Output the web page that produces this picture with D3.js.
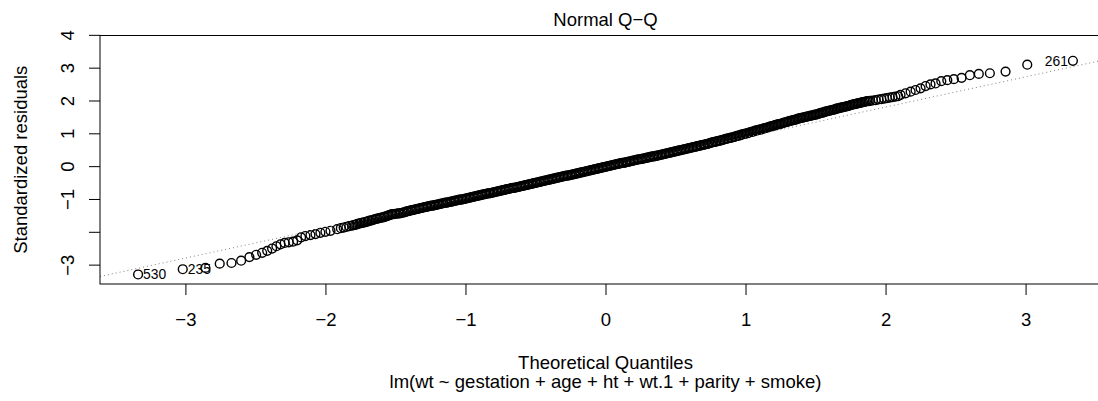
<!DOCTYPE html>
<html>
<head>
<meta charset="utf-8">
<script src="https://cdn.jsdelivr.net/npm/d3@7"></script>
<style>
  body { margin: 0; background: #fff; }
  svg text { font-family: "Liberation Sans", Arial, Helvetica, sans-serif; fill: #000; }
</style>
</head>
<body>
<svg id="canvas_qq" width="1098" height="401"></svg>
<script>
'use strict';

/* lower tail: the points that can still be told apart (theoretical quantile / standardized residual) */
const lowTailX = [-3.338, -3.019, -2.857, -2.755, -2.671, -2.602, -2.543, -2.495, -2.452, -2.416,
  -2.381, -2.350, -2.321, -2.291, -2.262, -2.231, -2.202, -2.174, -2.143, -2.107,
  -2.071, -2.036, -2.000, -1.964, -1.916, -1.890, -1.870, -1.850, -1.830, -1.810];
const lowTailY = [-3.30, -3.14, -3.10, -2.97, -2.95, -2.88, -2.77, -2.70, -2.64, -2.58,
  -2.51, -2.44, -2.38, -2.34, -2.32, -2.30, -2.26, -2.17, -2.13, -2.10,
  -2.07, -2.03, -2.00, -1.97, -1.92, -1.89, -1.87, -1.85, -1.83, -1.81];

/* dense middle band: residual read every 0.01 along the theoretical quantiles */
const midStart = -1.80;
const midStep = 0.01;
const midY = [
  -1.80, -1.79, -1.78, -1.76, -1.75, -1.74, -1.73, -1.72, -1.71, -1.70,
  -1.69, -1.67, -1.66, -1.65, -1.64, -1.62, -1.61, -1.60, -1.59, -1.58,
  -1.57, -1.56, -1.55, -1.53, -1.52, -1.50, -1.49, -1.47, -1.46, -1.46,
  -1.45, -1.45, -1.44, -1.44, -1.43, -1.42, -1.41, -1.40, -1.38, -1.37,
  -1.36, -1.35, -1.34, -1.33, -1.32, -1.31, -1.30, -1.29, -1.28, -1.27,
  -1.26, -1.25, -1.24, -1.23, -1.22, -1.21, -1.20, -1.20, -1.19, -1.18,
  -1.17, -1.16, -1.15, -1.14, -1.13, -1.12, -1.11, -1.11, -1.10, -1.09,
  -1.08, -1.07, -1.06, -1.05, -1.04, -1.03, -1.02, -1.02, -1.01, -1.00,
  -0.99, -0.98, -0.97, -0.96, -0.95, -0.94, -0.93, -0.92, -0.91, -0.90,
  -0.89, -0.88, -0.87, -0.86, -0.85, -0.84, -0.83, -0.83, -0.82, -0.81,
  -0.80, -0.79, -0.78, -0.77, -0.76, -0.75, -0.74, -0.73, -0.72, -0.71,
  -0.70, -0.69, -0.68, -0.67, -0.66, -0.66, -0.65, -0.64, -0.63, -0.62,
  -0.61, -0.60, -0.59, -0.58, -0.57, -0.56, -0.55, -0.54, -0.53, -0.52,
  -0.51, -0.50, -0.49, -0.48, -0.47, -0.46, -0.45, -0.44, -0.43, -0.42,
  -0.41, -0.40, -0.39, -0.38, -0.37, -0.36, -0.35, -0.34, -0.33, -0.32,
  -0.31, -0.30, -0.29, -0.29, -0.28, -0.27, -0.26, -0.25, -0.24, -0.23,
  -0.22, -0.21, -0.20, -0.19, -0.18, -0.17, -0.16, -0.15, -0.14, -0.13,
  -0.12, -0.11, -0.10, -0.09, -0.08, -0.07, -0.06, -0.05, -0.04, -0.03,
  -0.02, -0.01, 0.00, 0.01, 0.02, 0.03, 0.04, 0.05, 0.06, 0.07,
  0.08, 0.09, 0.10, 0.10, 0.11, 0.12, 0.13, 0.14, 0.15, 0.16,
  0.17, 0.18, 0.19, 0.20, 0.21, 0.21, 0.22, 0.23, 0.24, 0.25,
  0.26, 0.27, 0.28, 0.29, 0.30, 0.30, 0.31, 0.32, 0.33, 0.34,
  0.35, 0.36, 0.37, 0.38, 0.39, 0.40, 0.41, 0.42, 0.43, 0.44,
  0.45, 0.46, 0.47, 0.48, 0.49, 0.50, 0.51, 0.52, 0.53, 0.54,
  0.55, 0.56, 0.57, 0.58, 0.59, 0.60, 0.61, 0.62, 0.63, 0.64,
  0.65, 0.66, 0.67, 0.68, 0.69, 0.71, 0.72, 0.73, 0.74, 0.75,
  0.76, 0.77, 0.78, 0.79, 0.80, 0.82, 0.83, 0.84, 0.85, 0.86,
  0.87, 0.88, 0.89, 0.91, 0.92, 0.93, 0.94, 0.96, 0.97, 0.98,
  0.99, 1.00, 1.01, 1.03, 1.04, 1.05, 1.06, 1.08, 1.09, 1.10,
  1.11, 1.12, 1.13, 1.15, 1.16, 1.17, 1.18, 1.20, 1.21, 1.22,
  1.23, 1.25, 1.26, 1.27, 1.28, 1.29, 1.30, 1.32, 1.33, 1.34,
  1.35, 1.37, 1.38, 1.39, 1.40, 1.41, 1.42, 1.44, 1.45, 1.46,
  1.47, 1.48, 1.49, 1.50, 1.51, 1.52, 1.53, 1.54, 1.55, 1.56,
  1.57, 1.58, 1.59, 1.61, 1.62, 1.63, 1.64, 1.66, 1.67, 1.68,
  1.69, 1.70, 1.71, 1.72, 1.73, 1.75, 1.76, 1.77, 1.78, 1.79,
  1.80, 1.81, 1.82, 1.83, 1.84, 1.86, 1.87, 1.88, 1.89, 1.90,
  1.91, 1.92, 1.93, 1.94, 1.95, 1.96, 1.97, 1.98, 1.98, 1.99
];

/* upper tail */
const highTailX = [1.910, 1.930, 1.950, 1.970, 1.990, 2.010, 2.030, 2.050, 2.070, 2.090,
  2.107, 2.143, 2.179, 2.214, 2.250, 2.286, 2.321, 2.357, 2.398, 2.441,
  2.488, 2.543, 2.602, 2.666, 2.745, 2.857, 3.012, 3.338];
const highTailY = [2.00, 2.01, 2.03, 2.04, 2.06, 2.07, 2.09, 2.10, 2.12, 2.13,
  2.17, 2.22, 2.27, 2.32, 2.37, 2.44, 2.49, 2.52, 2.59, 2.62,
  2.65, 2.69, 2.77, 2.81, 2.83, 2.88, 3.09, 3.21];

/* the three labelled observations */
const idLabels = ['530', '235', '261'];
const idX = [-3.338, -3.019, 3.338];
const idY = [-3.30, -3.14, 3.21];

/* axes */
const xTicks = [-3, -2, -1, 0, 1, 2, 3];
const yTicks = [-3, -2, -1, 0, 1, 2, 3, 4];
const yTickLabels = ['\u22123', '', '\u22121', '0', '1', '2', '3', '4'];

/* dotted reference line through the quartiles */
const lineIntercept = -0.04;
const lineSlope = 0.92;

/* texts */
const title = 'Normal Q\u2212Q';
const xTitle = 'Theoretical Quantiles';
const yTitle = 'Standardized residuals';
const subTitle = 'lm(wt ~ gestation + age + ht + wt.1 + parity + smoke)';

/* plot region: the right part of the R plot is cut off by the picture edge */
const plot = {left: 100, right: 1111, top: 35.5, bottom: 284};
const fontSize = 18.5;

let x = d3.scaleLinear().domain([-3.61, 3.61]).range([plot.left, plot.right]);
let y = d3.scaleLinear().domain([-3.59, 3.98]).range([plot.bottom, plot.top]);

/* gather every point */
let points = [];
lowTailX.forEach((v, i) => points.push([v, lowTailY[i]]));
midY.forEach((v, i) => points.push([midStart + i * midStep, v]));
highTailX.forEach((v, i) => points.push([v, highTailY[i]]));

let svg = d3.select('svg#canvas_qq');
svg.append('rect')
  .attr('width', 1098).attr('height', 401)
  .attr('fill', '#fff')
;

/* points */
svg.append('g')
  .attr('id', 'points')
  .selectAll('circle')
  .data(points)
  .enter().append('circle')
    .attr('cx', d => x(d[0]))
    .attr('cy', d => y(d[1]))
    .attr('r', 4.4)
    .attr('fill', 'none')
    .attr('stroke', '#000')
    .attr('stroke-width', 1.4)
;

/* qq line, clipped to the plot region */
svg.append('clipPath').attr('id', 'clip')
  .append('rect')
  .attr('x', plot.left).attr('y', plot.top)
  .attr('width', plot.right - plot.left).attr('height', plot.bottom - plot.top)
;
svg.append('line')
  .attr('clip-path', 'url(#clip)')
  .attr('x1', x(-3.61)).attr('y1', y(lineIntercept + lineSlope * -3.61))
  .attr('x2', x(3.61)).attr('y2', y(lineIntercept + lineSlope * 3.61))
  .attr('stroke', '#7f7f7f')
  .attr('stroke-width', 1)
  .attr('stroke-dasharray', '1,3')
;

/* id labels: left half to the right of the point, right half to the left */
svg.append('g')
  .attr('id', 'labels')
  .selectAll('text')
  .data(idLabels)
  .enter().append('text')
    .attr('x', (d, i) => idX[i] < 0 ? x(idX[i]) + 5 : x(idX[i]) - 5)
    .attr('y', (d, i) => y(idY[i]) + 5)
    .attr('text-anchor', (d, i) => idX[i] < 0 ? 'start' : 'end')
    .style('font-size', (fontSize * 0.75) + 'px')
    .text(d => d)
;

/* bottom axis */
let xAxis = d3.axisBottom(x).tickValues(xTicks).tickSize(11).tickSizeOuter(0)
  .tickFormat(d => d < 0 ? '\u2212' + (-d) : '' + d);
let gx = svg.append('g')
  .attr('id', 'bottom-axis')
  .attr('transform', 'translate(0,' + plot.bottom + ')')
  .call(xAxis)
;
gx.select('.domain').remove();
gx.selectAll('line').attr('stroke', '#000');
gx.selectAll('text')
  .attr('y', 42).attr('dy', null)
  .style('font-size', fontSize + 'px')
;

/* left axis, labels parallel to the axis */
let yAxis = d3.axisLeft(y).tickValues(yTicks).tickSize(11).tickSizeOuter(0)
  .tickFormat((d, i) => yTickLabels[i]);
let gy = svg.append('g')
  .attr('id', 'left-axis')
  .attr('transform', 'translate(' + plot.left + ',0)')
  .call(yAxis)
;
gy.select('.domain').remove();
gy.selectAll('line').attr('stroke', '#000');
gy.selectAll('text')
  .attr('x', null).attr('dy', null)
  .attr('text-anchor', 'middle')
  .attr('transform', 'translate(-26,0) rotate(-90)')
  .style('font-size', fontSize + 'px')
;

/* frame */
svg.append('rect')
  .attr('x', plot.left).attr('y', plot.top)
  .attr('width', plot.right - plot.left).attr('height', plot.bottom - plot.top)
  .attr('fill', 'none')
  .attr('stroke', '#000')
  .attr('stroke-width', 1)
;

/* titles */
let cx = (plot.left + plot.right) / 2;
svg.append('text')
  .attr('x', cx).attr('y', 26)
  .attr('text-anchor', 'middle')
  .style('font-size', fontSize + 'px')
  .text(title)
;
svg.append('text')
  .attr('x', cx).attr('y', 369)
  .attr('text-anchor', 'middle')
  .style('font-size', fontSize + 'px')
  .text(xTitle)
;
svg.append('text')
  .attr('x', cx).attr('y', 388)
  .attr('text-anchor', 'middle')
  .style('font-size', fontSize + 'px')
  .text(subTitle)
;
svg.append('text')
  .attr('transform', 'translate(27,' + ((plot.top + plot.bottom) / 2) + ') rotate(-90)')
  .attr('text-anchor', 'middle')
  .style('font-size', fontSize + 'px')
  .text(yTitle)
;
</script>
</body>
</html>
